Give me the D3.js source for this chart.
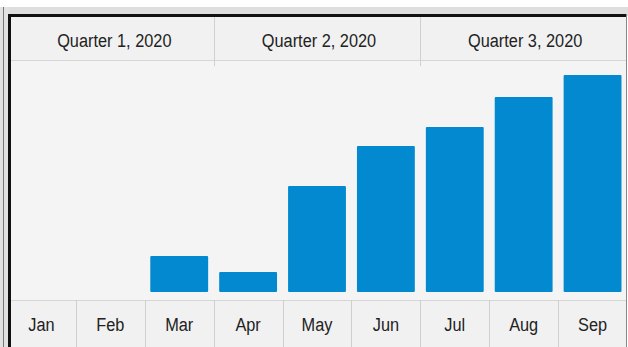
<!DOCTYPE html>
<html lang="en">
<head>
<meta charset="UTF-8">
<title>Monthly bars</title>
<script src="https://cdn.jsdelivr.net/npm/d3@7"></script>
<style>
  body { margin: 0; background: #fff; }
  text { font-family: "Liberation Sans", Arial, sans-serif; fill: #222; }
</style>
</head>
<body>
<div id="chart"></div>
<script>
// data
var months = ["Jan", "Feb", "Mar", "Apr", "May", "Jun", "Jul", "Aug", "Sep"];
var values = [0, 0, 16.6, 9.2, 48.8, 67.3, 76, 89.9, 100];
var quarters = ["Quarter 1, 2020", "Quarter 2, 2020", "Quarter 3, 2020"];

var width = 628, height = 347;
var svg = d3.select("#chart").append("svg")
  .attr("width", width)
  .attr("height", height);

// outer window chrome
svg.append("rect").attr("x", 0).attr("y", 7).attr("width", width).attr("height", 9).attr("fill", "#dedede");
svg.append("rect").attr("x", 0).attr("y", 7).attr("width", 9).attr("height", height - 7).attr("fill", "#e2e2e2");
svg.append("line").attr("x1", 3.5).attr("x2", 3.5).attr("y1", 7).attr("y2", height).attr("stroke", "#777");

// panel
var panelL = 11, panelR = 626, panelT = 17;
svg.append("rect").attr("x", panelL).attr("y", panelT).attr("width", panelR - panelL).attr("height", height - panelT).attr("fill", "#f4f4f4");
svg.append("rect").attr("x", 8).attr("y", 14).attr("width", panelR - 8).attr("height", 3).attr("fill", "#111");
svg.append("rect").attr("x", 8).attr("y", 14).attr("width", 3).attr("height", height - 14).attr("fill", "#111");
svg.append("line").attr("x1", panelR + 0.5).attr("x2", panelR + 0.5).attr("y1", 14).attr("y2", height).attr("stroke", "#888");

var x = d3.scaleBand()
  .domain(months)
  .range([7, 627])
  .paddingInner(0.16)
  .paddingOuter(0.08);

var step = x.step();
var x0 = 7;

var y = d3.scaleLinear()
  .domain([0, 100])
  .range([292, 75]);

var headerBottom = 60, axisTop = 300;

// condensed label helper
function label(cx, cy, str) {
  svg.append("text")
    .attr("transform", "translate(" + cx + "," + cy + ") scale(0.86,1)")
    .attr("text-anchor", "middle")
    .attr("font-size", 19)
    .text(str);
}

// header row
svg.append("rect").attr("x", panelL).attr("y", panelT).attr("width", panelR - panelL).attr("height", headerBottom - panelT).attr("fill", "#f1f1f1");
svg.append("line").attr("x1", panelL).attr("x2", panelR).attr("y1", headerBottom + 0.5).attr("y2", headerBottom + 0.5).attr("stroke", "#d6d6d6");
quarters.forEach(function(q, i) {
  var a = Math.max(panelL, x0 + i * 3 * step);
  var b = Math.min(panelR, x0 + (i + 1) * 3 * step);
  if (i > 0) {
    svg.append("line").attr("x1", Math.round(a) + 0.5).attr("x2", Math.round(a) + 0.5)
      .attr("y1", panelT).attr("y2", headerBottom + 6).attr("stroke", "#d0d0d0");
  }
  label((a + b) / 2 + 2, 47, q);
});

// bars
svg.selectAll("rect.bar")
  .data(months.map(function(m, i) { return {m: m, v: values[i]}; }).filter(function(d) { return d.v > 0; }))
  .enter().append("rect")
  .attr("class", "bar")
  .attr("x", function(d) { return x(d.m); })
  .attr("y", function(d) { return y(d.v); })
  .attr("width", x.bandwidth())
  .attr("height", function(d) { return y(0) - y(d.v); })
  .attr("rx", 1)
  .attr("fill", "#0289d0");

// axis row
svg.append("rect").attr("x", panelL).attr("y", axisTop).attr("width", panelR - panelL).attr("height", height - axisTop).attr("fill", "#f1f1f1");
svg.append("line").attr("x1", panelL).attr("x2", panelR).attr("y1", axisTop + 0.5).attr("y2", axisTop + 0.5).attr("stroke", "#d6d6d6");
months.forEach(function(m, i) {
  if (i > 0) {
    var xx = Math.round(x0 + i * step) + 0.5;
    svg.append("line").attr("x1", xx).attr("x2", xx)
      .attr("y1", axisTop).attr("y2", height).attr("stroke", "#cfcfcf");
  }
  label(x(m) + x.bandwidth() / 2, 331, m);
});
</script>
</body>
</html>
